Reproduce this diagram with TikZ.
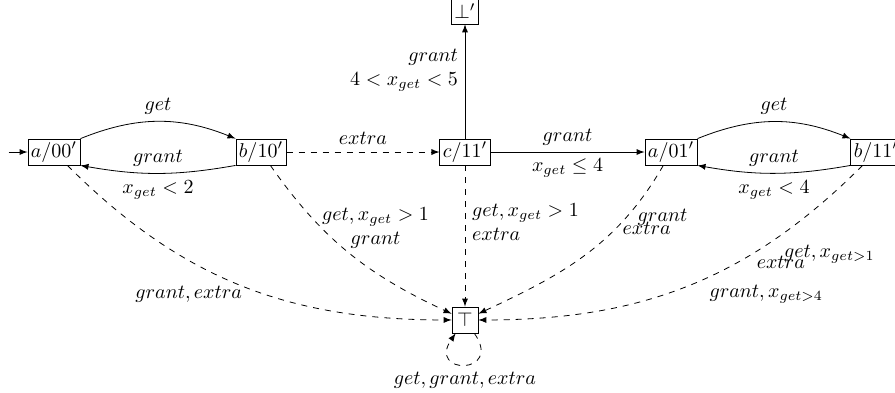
\documentclass[tikz,border=0pt]{standalone}
\usepackage{amsmath}
\usepackage{amsfonts}
\usepackage{tikz}
\usetikzlibrary{positioning, arrows}

\begin{document}
\begin{tikzpicture}[
  >=latex,
  st/.style={rectangle, draw, inner sep=1.5pt, minimum height=13pt, minimum width=13pt},
  tr/.style={->, dashed}
]
\useasboundingbox (0,0) rectangle (15.725,6.905);
\node[st] (a00) at (0.949,4.234) {$a/00'$};
\node[st] (b10) at (4.586,4.234) {$b/10'$};
\node[st] (c11) at (8.170,4.234) {$c/11'$};
\node[st] (a01) at (11.79,4.234) {$a/01'$};
\node[st] (b11) at (15.39,4.234) {$b/11'$};
\node[st] (bot) at (8.170,6.712) {$\bot'$};
\node[st] (top) at (8.170,1.283) {$\top$};
\coordinate[left=0.33cm of a00] (init);

\draw[->] (init) -- (a00);
\draw[->] (a00.north east) to[bend left=22] node[above] {$get$} (b10.north west);
\draw[->] (b10.south west) to[bend left=10] node[above] {$grant$} node[below] {$x_{get} < 2$} (a00.south east);
\draw[tr] (b10) -- node[above] {$extra$} (c11);
\draw[->] (c11) -- node[pos=0.6, left, align=right] {$grant$\\$4 < x_{get} < 5$} (bot);
\draw[->] (c11) -- node[above] {$grant$} node[below] {$x_{get} \leq 4$} (a01);
\draw[->] (a01.north east) to[bend left=22] node[above] {$get$} (b11.north west);
\draw[->] (b11.south west) to[bend left=10] node[above] {$grant$} node[below] {$x_{get} < 4$} (a01.south east);

% edges into the sink
\draw[tr] (a00) to[out=-45, in=180] node[pos=0.52, left, yshift=-3pt] {$grant, extra$} (top);
\draw[tr] (b10) to[out=-55, in=155] node[pos=0.33, anchor=west, inner sep=0pt, align=center] {$get, x_{get} > 1$\\$grant$} (top);
\draw[tr] (c11) -- node[pos=0.4, right, align=left] {$get, x_{get} > 1$\\$extra$} (top);
\draw[tr] (a01) to[out=-120, in=25]
  node[pos=0.25, right, xshift=2pt] {$grant$}
  node[pos=0.32, right] {$extra$} (top);
\draw[tr] (b11) to[out=-135, in=0]
  node[pos=0.25, below right] {$get, x_{get>1}$}
  node[pos=0.3, below right, xshift=-5pt] {$extra$}
  node[pos=0.45, below right, xshift=-2pt] {$grant, x_{get>4}$} (top);
\draw[tr] (top) to[out=-55, in=-125, looseness=7] node[below] {$get, grant, extra$} (top);
\end{tikzpicture}
\end{document}
